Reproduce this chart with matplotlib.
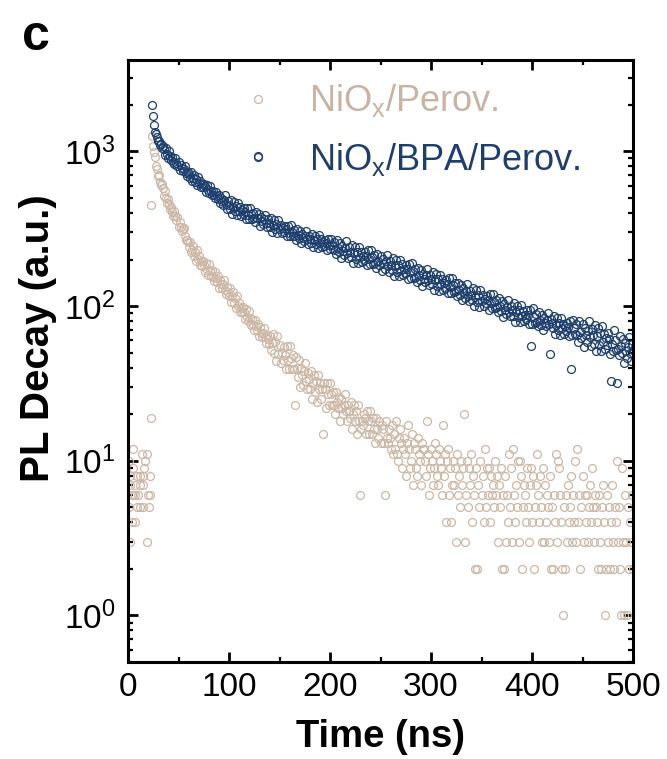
import numpy as np
import matplotlib
matplotlib.use("Agg")
import matplotlib.pyplot as plt
from matplotlib.ticker import MultipleLocator, LogLocator, NullFormatter

plt.rcParams['font.family'] = ['Liberation Sans', 'DejaVu Sans']
plt.rcParams['mathtext.fontset'] = 'custom'
plt.rcParams['mathtext.rm'] = 'Liberation Sans'
plt.rcParams['mathtext.it'] = 'Liberation Sans:italic'
plt.rcParams['mathtext.bf'] = 'Liberation Sans:bold'

# ---------------- data ----------------
labels = [r'NiO$_\mathregular{x}$/Perov.', r'NiO$_\mathregular{x}$/BPA/Perov.']

# NiOx/Perov. : counts before the excitation pulse
perov_pre_t = [4.6, 13.5, 18.5, 1.3, 16.8, 4.6, 15.8, 2.0, 8.6, 11.9, 15.2, 21.8,
               2.0, 7.0, 11.9, 15.2, 3.6, 5.3, 6.9, 10.2, 20.1, 21.8, 1.3, 8.6,
               11.9, 15.2, 21.1, 3.6, 6.9, 2.0, 18.5, 22.5]
perov_pre_v = [12, 11, 11, 10, 10, 9, 9, 8, 8, 8, 8, 8, 7, 7, 7, 7, 6, 6, 6, 6, 6, 6,
               5, 5, 5, 5, 5, 4, 4, 3, 3, 19]

# NiOx/Perov. : decay, one value per ns from t0 = 23 ns
perov_t0 = 23
perov = [
    450, 1250, 1080, 990, 920, 800, 770, 690, 700, 630,
    605, 619, 576, 518, 558, 501, 463, 495, 455, 423,
    439, 404, 380, 411, 380, 359, 376, 327, 349, 327,
    307, 315, 321, 286, 266, 266, 258, 241, 260, 223,
    230, 243, 211, 225, 195, 231, 201, 210, 183, 195,
    182, 197, 185, 165, 191, 171, 160, 186, 168, 156,
    170, 155, 145, 167, 152, 143, 157, 131, 148, 138,
    130, 138, 147, 128, 119, 133, 124, 116, 131, 106,
    116, 123, 105, 112, 97, 116, 100, 105, 91, 97,
    91, 99, 92, 83, 96, 85, 80, 93, 84, 76,
    83, 76, 70, 81, 74, 70, 77, 64, 73, 67,
    63, 67, 72, 63, 58, 65, 61, 57, 64, 52,
    58, 66, 50, 59, 44, 64, 49, 56, 43, 50,
    45, 54, 48, 39, 55, 45, 39, 55, 46, 39,
    48, 39, 23, 47, 40, 35, 45, 30, 40, 36,
    31, 38, 43, 33, 29, 37, 34, 29, 38, 25,
    32, 36, 28, 33, 24, 36, 29, 32, 25, 29,
    15, 32, 29, 22, 32, 27, 23, 32, 27, 23,
    28, 23, 20, 28, 24, 22, 26, 18, 25, 22,
    20, 23, 27, 21, 18, 23, 21, 19, 24, 16,
    20, 23, 18, 21, 15, 23, 18, 6, 16, 18,
    17, 20, 19, 15, 21, 18, 15, 21, 18, 15,
    19, 16, 13, 19, 16, 14, 18, 13, 17, 16,
    13, 6, 18, 14, 13, 16, 14, 12, 17, 11,
    15, 12, 18, 11, 10, 14, 16, 13, 9, 12,
    14, 11, 8, 13, 17, 12, 9, 10, 15, 7,
    13, 12, 9, 8, 14, 11, 10, 7, 13, 12,
    12, 10, 8, 18, 11, 6, 9, 12, 10, 7,
    9, 13, 11, 8, 7, 12, 10, 9, 6, 17,
    8, 11, 4, 10, 12, 6, 9, 4, 7, 10,
    7, 9, 3, 11, 6, 8, 5, 10, 7, 9,
    20, 3, 6, 10, 5, 9, 7, 11, 4, 8,
    6, 2, 9, 2, 7, 5, 10, 6, 8, 4,
    12, 5, 9, 6, 9, 4, 8, 6, 7, 5,
    10, 6, 8, 3, 7, 5, 9, 2, 6, 2,
    8, 3, 6, 4, 11, 5, 9, 3, 12, 6,
    4, 7, 5, 10, 3, 10, 8, 2, 5, 7,
    6, 4, 9, 5, 3, 7, 9, 4, 8, 2,
    5, 7, 11, 6, 4, 8, 5, 3, 9, 3,
    7, 4, 6, 5, 3, 8, 2, 5, 2, 6,
    4, 11, 3, 10, 9, 6, 4, 2, 1, 5,
    2, 6, 3, 7, 4, 5, 8, 3, 6, 4,
    10, 3, 12, 4, 6, 2, 5, 8, 3, 6,
    4, 6, 3, 5, 7, 4, 9, 5, 3, 6,
    5, 4, 2, 6, 3, 2, 5, 7, 4, 1,
    2, 6, 3, 5, 2, 4, 7, 3, 2, 5,
    4, 10, 3, 5, 2, 1, 9, 3, 1, 6,
    3, 1, 5, 2, 4, 3, 6, 2]

# NiOx/BPA/Perov. : decay, one value per ns from t0 = 24 ns
bpa_t0 = 24
bpa = [
    2000, 1700, 1480, 1330, 1290, 1240, 1160, 1170, 1100, 1120,
    1050, 1090, 1040, 955, 1050, 965, 910, 1005, 935, 880,
    920, 860, 825, 900, 840, 805, 855, 755, 815, 780,
    745, 775, 810, 730, 695, 740, 710, 675, 735, 640,
    678, 704, 639, 667, 607, 679, 621, 642, 588, 612,
    587, 619, 594, 549, 608, 564, 538, 596, 556, 526,
    555, 519, 498, 546, 512, 491, 523, 463, 502, 480,
    451, 485, 519, 456, 426, 475, 450, 425, 484, 395,
    438, 468, 410, 442, 388, 465, 412, 436, 385, 415,
    392, 429, 408, 367, 432, 389, 367, 431, 394, 367,
    401, 369, 350, 405, 373, 930, 394, 329, 379, 357,
    337, 364, 391, 345, 324, 363, 345, 326, 371, 303,
    336, 359, 314, 339, 298, 358, 316, 334, 296, 319,
    300, 330, 314, 282, 331, 299, 282, 332, 303, 283,
    309, 284, 269, 313, 289, 274, 306, 256, 294, 277,
    263, 285, 306, 270, 253, 285, 272, 257, 294, 241,
    267, 286, 252, 272, 238, 287, 255, 271, 240, 259,
    245, 269, 257, 231, 273, 247, 233, 273, 250, 233,
    260, 232, 217, 266, 239, 224, 257, 204, 246, 228,
    213, 238, 262, 222, 205, 240, 225, 208, 249, 189,
    219, 240, 202, 225, 189, 242, 207, 225, 192, 212,
    199, 225, 211, 183, 230, 202, 187, 232, 207, 188,
    213, 190, 177, 218, 195, 183, 211, 168, 202, 187,
    175, 195, 214, 181, 167, 196, 184, 170, 204, 156,
    181, 198, 166, 185, 156, 199, 170, 186, 158, 175,
    163, 185, 173, 150, 188, 165, 153, 190, 169, 153,
    173, 155, 144, 176, 158, 148, 170, 135, 162, 150,
    143, 159, 174, 147, 136, 160, 150, 139, 166, 127,
    147, 161, 135, 150, 126, 160, 138, 149, 127, 140,
    131, 148, 139, 121, 151, 133, 122, 153, 136, 123,
    140, 125, 116, 142, 127, 118, 137, 109, 130, 121,
    113, 126, 138, 116, 108, 126, 118, 109, 131, 100,
    115, 127, 106, 118, 99, 127, 108, 118, 100, 111,
    104, 117, 110, 95, 119, 105, 97, 120, 107, 97,
    110, 98, 91, 112, 100, 93, 108, 85, 103, 95,
    89, 99, 109, 92, 86, 100, 94, 86, 104, 79,
    92, 100, 85, 94, 79, 101, 86, 93, 80, 88,
    83, 94, 88, 77, 95, 55, 77, 97, 85, 78,
    89, 79, 74, 91, 81, 76, 88, 70, 84, 78,
    74, 81, 90, 77, 49, 83, 78, 72, 86, 66,
    76, 84, 70, 78, 65, 84, 72, 77, 66, 74,
    69, 78, 73, 64, 80, 39, 65, 81, 72, 66,
    77, 65, 59, 80, 68, 62, 77, 54, 72, 65,
    59, 69, 80, 63, 55, 71, 65, 57, 76, 51,
    64, 72, 56, 67, 51, 74, 59, 66, 53, 62,
    56, 67, 61, 49, 33, 57, 51, 70, 60, 52,
    32, 53, 48, 64, 55, 50, 61, 43, 58, 51,
    46, 54, 63, 50, 44, 57, 52]

x_ticks = [0, 100, 200, 300, 400, 500]

# ---------------- styling ----------------
tan = '#CDB8A6'
tan_text = '#C9B3A1'
navy = '#1E3F6E'

perov_t = list(perov_pre_t) + list(perov_t0 + np.arange(len(perov)))
perov_v = list(perov_pre_v) + list(perov)
bpa_t = bpa_t0 + np.arange(len(bpa))

fig = plt.figure(figsize=(6.67, 7.59), dpi=100)
ax = fig.add_axes([128/667, 1 - 662/759, 505/667, 602/759])

ms = 5.7
mew = 0.9
h1, = ax.plot(perov_t, perov_v, ls='none', marker='o', ms=ms, mfc='none',
              mec=tan, mew=mew, label=labels[0])
h2, = ax.plot(bpa_t, bpa, ls='none', marker='o', ms=ms, mfc='none',
              mec=navy, mew=mew, label=labels[1])

ax.set_yscale('log')
ax.set_xlim(0, 500)
ax.set_ylim(0.5, 3900)
ax.set_xticks(x_ticks)
ax.xaxis.set_minor_locator(MultipleLocator(50))
ax.yaxis.set_major_locator(LogLocator(base=10, numticks=10))
ax.yaxis.set_minor_locator(LogLocator(base=10, subs=np.arange(2, 10), numticks=20))
ax.yaxis.set_minor_formatter(NullFormatter())

for s in ax.spines.values():
    s.set_linewidth(2.2)
ax.tick_params(which='major', direction='in', length=7.2, width=2.0,
               top=True, right=True, labelsize=24)
ax.tick_params(which='minor', direction='in', length=3.8, width=1.6,
               top=True, right=True)
ax.tick_params(axis='x', which='major', pad=7)
ax.tick_params(axis='y', which='major', pad=9)

ax.set_xlabel('Time (ns)', fontsize=27.5, fontweight='bold', labelpad=12)
ax.set_ylabel('PL Decay (a.u.)', fontsize=29, fontweight='bold')
ax.yaxis.set_label_coords(-0.14, 0.538)

leg = ax.legend(handles=[h1, h2], loc='upper left', bbox_to_anchor=(0.222, 0.963),
                frameon=False, fontsize=26, handlelength=1.0, handletextpad=0.9,
                borderpad=0, borderaxespad=0, labelspacing=0.6, markerscale=1.0,
                labelcolor=[tan_text, navy])

fig.text(22/667, 1 - 50/759, 'c', fontsize=36, fontweight='bold', va='baseline')

fig.savefig('out.png', dpi=100)
